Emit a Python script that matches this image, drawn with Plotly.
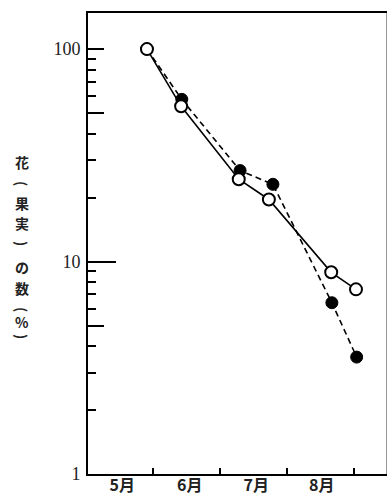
import plotly.graph_objects as go

# Month coordinate: 1 = 1 June boundary, 2 = 1 July, etc.
open_x = [0.91, 1.42, 2.28, 2.73, 3.66, 4.03]
open_y = [100, 53.8, 24.4, 19.6, 8.9, 7.4]
filled_x = [0.91, 1.43, 2.30, 2.79, 3.67, 4.04]
filled_y = [100, 58, 26.8, 23.1, 6.4, 3.55]

month_ticks = [1, 2, 3, 4]
month_label_pos = [0.54, 1.55, 2.54, 3.52]
month_labels = ["5月", "6月", "7月", "8月"]

y_major = [1, 10, 100]
y_mid = [5, 50, 100]
y_ten = [10]
y_minor = [2, 3, 4, 6, 7, 8, 9, 20, 30, 40, 60, 70, 80, 90]

# vertical y-axis title: characters, with parentheses rotated
title_chars = ["花", "(", "果", "実", ")", "の", "数", "(", "%", ")"]
title_rot = [0, 90, 0, 0, 90, 0, 0, 90, 0, 90]
title_px = [162, 183, 203, 223, 243, 267, 288, 309, 322, 336]

xr = [0.03, 4.478]
yr = [0, 2.17]

W, H = 388, 504
ML, MR, MT, MB = 88, 2, 13, 30

fig = go.Figure()
fig.add_trace(go.Scatter(
    x=filled_x, y=filled_y, mode="lines+markers",
    line=dict(color="black", width=1.6, dash="6px,4px"),
    marker=dict(symbol="circle", size=12, color="black",
                line=dict(color="black", width=1)),
    showlegend=False, hoverinfo="skip"))
fig.add_trace(go.Scatter(
    x=open_x, y=open_y, mode="lines+markers",
    line=dict(color="black", width=1.6),
    marker=dict(symbol="circle", size=12, color="white",
                line=dict(color="black", width=2)),
    showlegend=False, hoverinfo="skip"))

serif = "Liberation Serif"
cjk = "Noto Sans CJK JP"

common = dict(showgrid=False, zeroline=False, automargin=False)

fig.update_layout(
    width=W, height=H,
    margin=dict(l=ML, r=MR, t=MT, b=MB),
    paper_bgcolor="white", plot_bgcolor="white",
    xaxis=dict(range=xr, tickvals=month_ticks, ticktext=["", "", "", ""],
               ticks="inside", ticklen=6, tickwidth=2, tickcolor="black",
               showline=True, linewidth=2, linecolor="black", mirror=True,
               **common),
    xaxis2=dict(range=xr, overlaying="x", anchor="y", side="bottom",
                tickvals=month_label_pos, ticktext=month_labels, ticks="",
                tickfont=dict(family=cjk, size=16, color="#222", weight="bold"),
                showline=False, **common),
    yaxis=dict(type="log", range=yr, tickvals=y_major,
               ticktext=[str(v) for v in y_major],
               ticks="inside", ticklen=1, tickwidth=2, tickcolor="black",
               tickfont=dict(family=serif, size=18, color="#222"),
               ticklabelstandoff=2,
               showline=True, linewidth=2, linecolor="black",
               **common),
    yaxis2=dict(type="log", range=yr, overlaying="y", anchor="x", side="left",
                tickvals=y_mid, showticklabels=False,
                ticks="inside", ticklen=16, tickwidth=2, tickcolor="black",
                showline=False, **common),
    yaxis3=dict(type="log", range=yr, overlaying="y", anchor="x", side="left",
                tickvals=y_ten, showticklabels=False,
                ticks="inside", ticklen=28, tickwidth=2, tickcolor="black",
                showline=False, **common),
    yaxis4=dict(type="log", range=yr, overlaying="y", anchor="x", side="left",
                tickvals=y_minor, showticklabels=False,
                ticks="inside", ticklen=8, tickwidth=2, tickcolor="black",
                showline=False, **common),
    yaxis5=dict(type="log", range=yr, overlaying="y", anchor="x", side="right",
                showticklabels=False, ticks="",
                showline=True, linewidth=1, linecolor="#999",
                **common),
)

# dummy traces so overlay axes are rendered
for ax in ["y2", "y3", "y4", "y5"]:
    fig.add_trace(go.Scatter(x=[None], y=[None], yaxis=ax, showlegend=False,
                             hoverinfo="skip"))
fig.add_trace(go.Scatter(x=[None], y=[None], xaxis="x2", showlegend=False,
                         hoverinfo="skip"))

plot_h = H - MT - MB
for ch, rot, py in zip(title_chars, title_rot, title_px):
    fig.add_annotation(
        text=ch, xref="paper", yref="paper",
        x=(22 - ML) / (W - ML - MR), y=(H - MB - py) / plot_h,
        xanchor="center", yanchor="middle", showarrow=False,
        textangle=rot, borderpad=0,
        font=dict(family=cjk, size=14, color="#222", weight="bold"))

fig.write_html("out.html",
               config={"displayModeBar": False},
               post_script="document.body.style.margin='0';"
                           "document.documentElement.style.overflow='hidden';")
